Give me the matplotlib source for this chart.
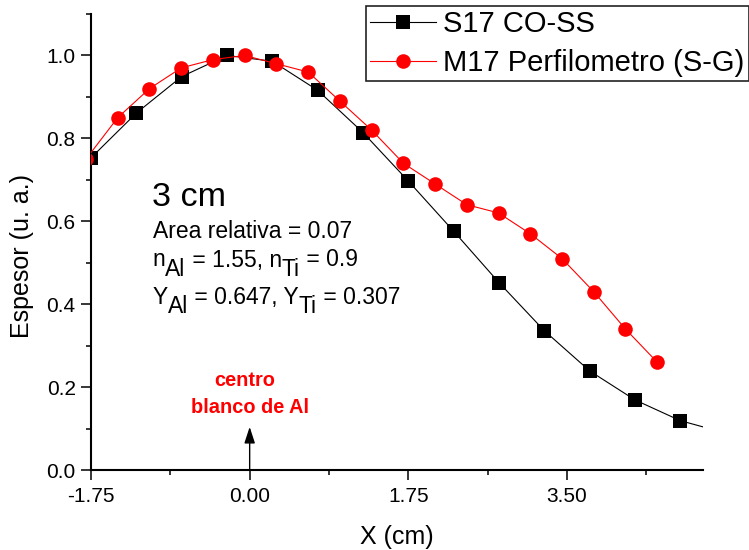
import matplotlib
matplotlib.use("Agg")
import matplotlib.pyplot as plt
from matplotlib.transforms import IdentityTransform
from matplotlib.ticker import FixedLocator

plt.rcParams['font.family'] = ['Liberation Sans', 'DejaVu Sans']

# ---- data ----
s17_x = [-1.75, -1.25, -0.75, -0.25, 0.25, 0.75, 1.25, 1.75, 2.25, 2.75, 3.25, 3.75, 4.25, 4.75]
s17_y = [0.753, 0.861, 0.949, 1.000, 0.986, 0.916, 0.814, 0.697, 0.576, 0.452, 0.336, 0.239, 0.169, 0.119]
s17_tail_x = [4.75, 5.0]
s17_tail_y = [0.119, 0.104]

m17_x = [-1.805, -1.455, -1.105, -0.755, -0.405, -0.055, 0.295, 0.645, 0.995, 1.345,
         1.695, 2.045, 2.395, 2.745, 3.095, 3.445, 3.795, 4.145, 4.495]
m17_y = [0.75, 0.85, 0.92, 0.97, 0.99, 1.00, 0.98, 0.96, 0.89, 0.82,
         0.74, 0.69, 0.64, 0.62, 0.57, 0.51, 0.43, 0.34, 0.26]

x_major = [-1.75, 0.00, 1.75, 3.50]
x_minor = [-0.875, 0.875, 2.625, 4.375]
y_major = [0.0, 0.2, 0.4, 0.6, 0.8, 1.0]
y_minor = [0.1, 0.3, 0.5, 0.7, 0.9, 1.1]

labels = ["S17 CO-SS", "M17 Perfilometro (S-G)"]

W, H = 749, 550
fig = plt.figure(figsize=(W / 100, H / 100), dpi=100)
ax = fig.add_axes([91 / W, 1 - 470 / H, (703 - 91) / W, (470 - 14) / H])

l1, = ax.plot(s17_x, s17_y, color='black', lw=0.8, marker='s', ms=9.5,
              markeredgewidth=0, zorder=3)
ax.plot(s17_tail_x, s17_tail_y, color='black', lw=0.8, zorder=3)
l2, = ax.plot(m17_x, m17_y, color='#ff0000', lw=0.8, marker='o', ms=10.5,
              markeredgewidth=0, zorder=4)

ax.set_xlim(-1.75, 5.0)
ax.set_ylim(0.0, 1.1)
ax.xaxis.set_major_locator(FixedLocator(x_major))
ax.xaxis.set_minor_locator(FixedLocator(x_minor))
ax.yaxis.set_major_locator(FixedLocator(y_major))
ax.yaxis.set_minor_locator(FixedLocator(y_minor))
ax.set_xticklabels([f"{v:.2f}" for v in x_major])
ax.set_yticklabels([f"{v:.1f}" for v in y_major])

for s in ['top', 'right']:
    ax.spines[s].set_visible(False)
for s in ['left', 'bottom']:
    ax.spines[s].set_linewidth(1.5)
ax.tick_params(which='major', direction='out', length=7, width=1.1, labelsize=15)
ax.tick_params(axis='y', which='major', pad=4)
ax.tick_params(axis='x', which='major', pad=5)
ax.tick_params(which='minor', direction='out', length=3.6, width=1.1)

ax.set_xlabel("X (cm)", fontsize=18)
ax.set_ylabel("Espesor (u. a.)", fontsize=18)
ax.xaxis.set_label_coords(0.5, (470 - 537) / 456)
ax.xaxis.label.set_va('center')
ax.yaxis.set_label_coords((22 - 91) / 612, (470 - 256) / 456)
ax.yaxis.label.set_va('center')

# annotation arrow and red text
ax.annotate('', xy=(0.0, 0.104), xytext=(0.0, 0.0),
            arrowprops=dict(arrowstyle='-|>,head_length=0.55,head_width=0.18',
                            color='black', lw=1.0, mutation_scale=18,
                            shrinkA=0, shrinkB=0))
ax.text(-0.05, 0.2024, "centro", color='#ff0000', fontsize=14.4,
        fontweight='bold', ha='center', va='baseline')
ax.text(0.0, 0.1366, "blanco de Al", color='#ff0000', fontsize=14.4,
        fontweight='bold', ha='center', va='baseline')

# text block with subscripts
renderer = fig.canvas.get_renderer()


def seq_text(x_px, y_px, segments, size):
    x = x_px
    for s, dy in segments:
        t = fig.text(x, H - y_px - dy, s, fontsize=size, ha='left', va='baseline',
                     transform=IdentityTransform())
        bb = t.get_window_extent(renderer=renderer)
        x = bb.x1


fig.text(152, H - 206, "3 cm", fontsize=24.5, ha='left', va='baseline',
         transform=IdentityTransform())
seq_text(152.7, 238.5, [("Area relativa = 0.07", 0)], 16.5)
seq_text(152.7, 266.5, [("n", 0), ("Al", 9), (" = 1.55, n", 0), ("Ti", 9), (" = 0.9", 0)], 16.5)
seq_text(152.7, 304, [("Y", 0), ("Al", 9), (" = 0.647, Y", 0), ("Ti", 9), (" = 0.307", 0)], 16.5)

leg = fig.legend([l1, l2], labels, loc='upper right',
                 bbox_to_anchor=(748.5 / W, 1 - 5.5 / H),
                 bbox_transform=fig.transFigure, fontsize=21,
                 frameon=True, fancybox=False, framealpha=1, edgecolor='#222222',
                 borderpad=0.15, borderaxespad=0, handlelength=2.25,
                 handletextpad=0.25, labelspacing=0.38, markerscale=1.0)
leg.get_frame().set_linewidth(1.2)

fig.savefig("out.png", dpi=100)
